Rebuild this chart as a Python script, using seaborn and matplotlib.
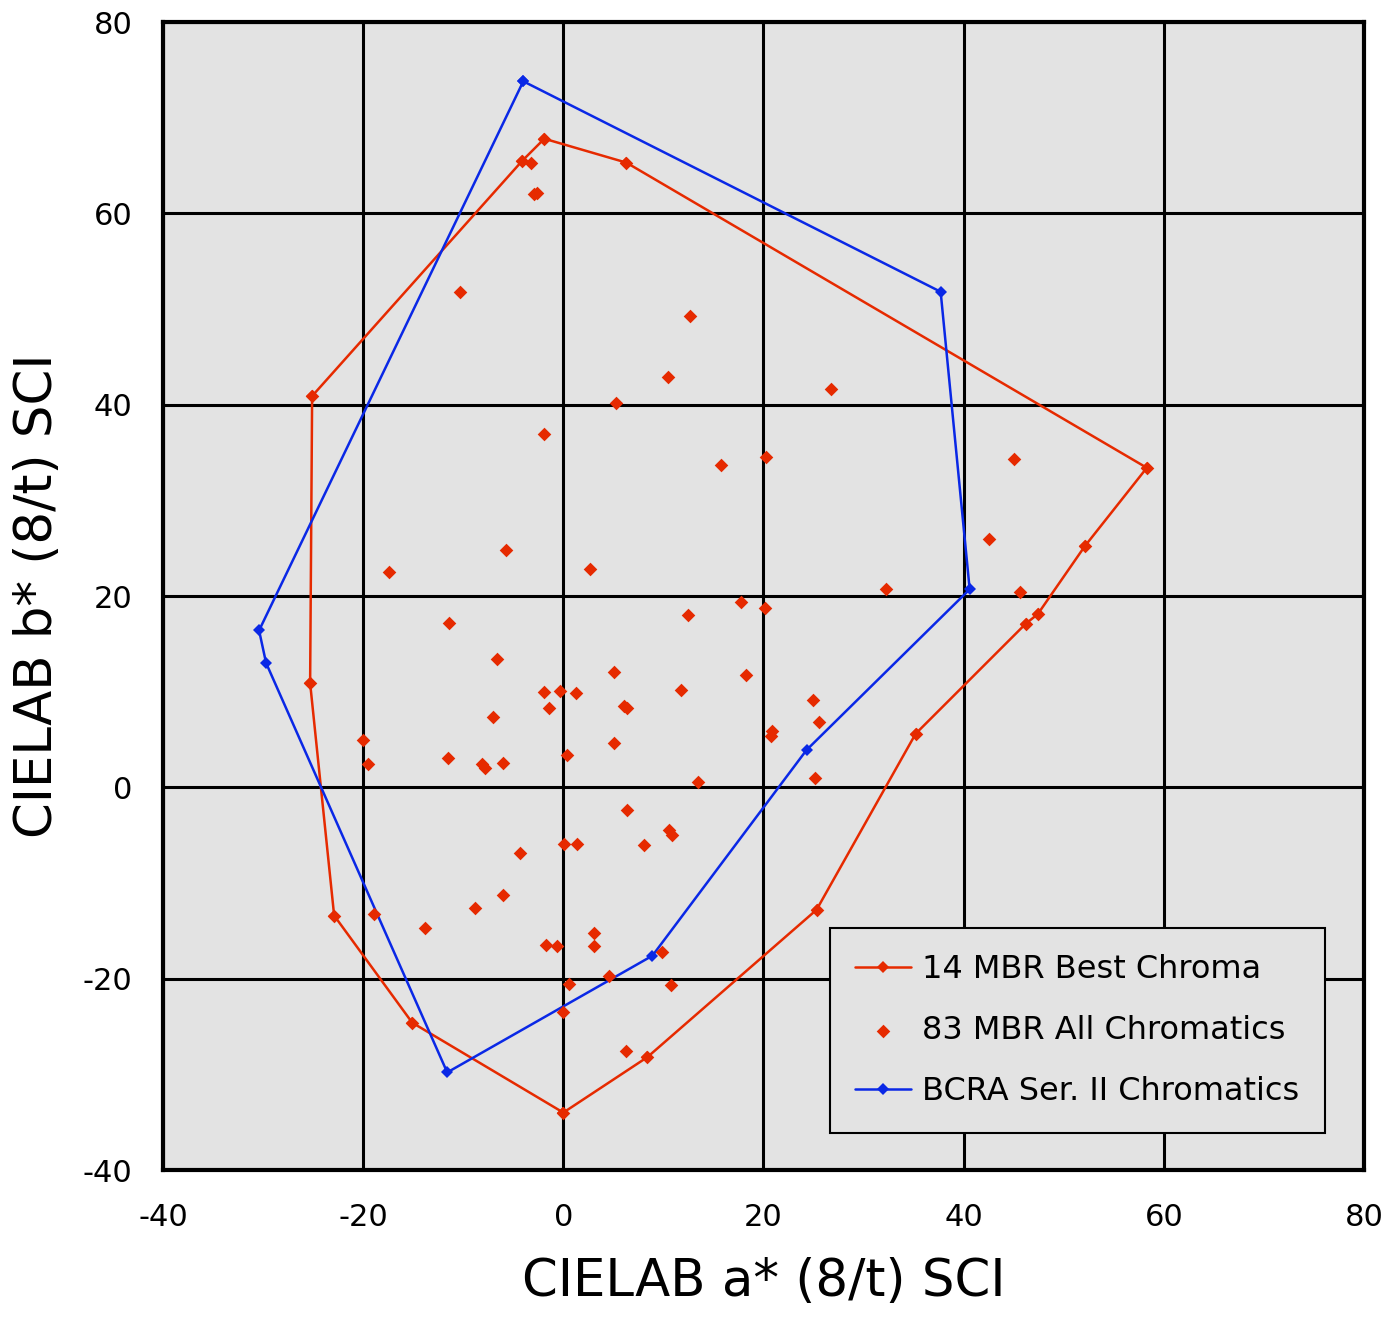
import matplotlib
matplotlib.use("Agg")
import matplotlib.pyplot as plt
import seaborn as sns
import pandas as pd
import numpy as np

# 14 MBR Best Chroma hull (closed)
best_a = [0.0, -15.1, -22.9, -25.3, -25.1, -4.1, -1.9, 6.3, 58.3, 52.1, 47.4, 46.2, 35.2, 25.3, 8.4, 0.0]
best_b = [-34.0, -24.6, -13.4, 10.9, 40.9, 65.5, 67.8, 65.3, 33.4, 25.2, 18.1, 17.1, 5.6, -12.8, -28.2, -34.0]

# BCRA Ser. II chromatics hull (closed)
bcra_a = [-4.0, 37.7, 40.6, 24.3, 8.9, -11.6, -29.7, -30.4, -4.0]
bcra_b = [73.8, 51.8, 20.7, 3.9, -17.6, -29.8, 13.0, 16.4, 73.8]

# 83 MBR all chromatics (interior points)
all_a = [-3.2, -2.9, -2.6, -10.3, 12.7, 10.5, 26.7, 5.3, -1.9, 15.8, 20.2, 45.0, 42.5,
         -5.7, -17.4, 2.7, 32.2, 45.6, 17.8, 20.1, 12.5, -11.4, -6.6, 5.1, 18.3, 11.8,
         -1.9, -0.3, 1.3, 24.9, 6.1, 6.4, -1.4, -7.0, 25.5, 20.8, 20.7, -20.0, 5.1,
         -19.5, -11.5, 0.4, -6.0, -8.1, -7.8, 13.5, 25.1, 6.4, 10.6, 10.9, 8.1, 0.1,
         1.4, -4.3, -8.8, -6.0, -18.9, -13.8, 3.1, 3.1, -1.7, -0.6, 9.9, 4.6, 0.6,
         10.8, 0.0, 6.3]
all_b = [65.3, 62.0, 62.1, 51.8, 49.3, 42.9, 41.6, 40.2, 36.9, 33.7, 34.5, 34.3, 26.0,
         24.8, 22.5, 22.8, 20.7, 20.4, 19.4, 18.7, 18.0, 17.2, 13.4, 12.1, 11.7, 10.2,
         10.0, 10.1, 9.9, 9.1, 8.5, 8.3, 8.3, 7.3, 6.8, 5.9, 5.4, 4.9, 4.6,
         2.4, 3.1, 3.4, 2.5, 2.4, 2.0, 0.6, 1.0, -2.4, -4.5, -5.0, -6.0, -5.9,
         -5.9, -6.9, -12.6, -11.3, -13.2, -14.7, -15.2, -16.6, -16.5, -16.6, -17.2, -19.7, -20.6,
         -20.7, -23.5, -27.6]

ticks = [-40, -20, 0, 20, 40, 60, 80]

RED = "#e62a00"
BLUE = "#0a28e6"

sns.set_theme(style="white")
plt.rcParams["font.family"] = ["DejaVu Sans"]
plt.rcParams["text.color"] = "black"
plt.rcParams["axes.labelcolor"] = "black"
plt.rcParams["xtick.color"] = "black"
plt.rcParams["ytick.color"] = "black"

fig = plt.figure(figsize=(13.88, 13.2), dpi=100)
ax = fig.add_axes([163/1388, 150/1320, (1364-163)/1388, (1170-22)/1320])
ax.set_facecolor("#e3e3e3")

best_df = pd.DataFrame({"a": best_a, "b": best_b})
bcra_df = pd.DataFrame({"a": bcra_a, "b": bcra_b})
all_df = pd.DataFrame({"a": all_a + best_a[:-1], "b": all_b + best_b[:-1]})

sns.lineplot(data=best_df, x="a", y="b", sort=False, estimator=None, ax=ax,
             color=RED, lw=1.8, marker="D", markersize=6.5, markeredgewidth=0,
             label="14 MBR Best Chroma", zorder=4)
sns.scatterplot(data=all_df, x="a", y="b", ax=ax, color=RED, marker="D", s=48,
                linewidth=0, label="83 MBR All Chromatics", zorder=5)
sns.lineplot(data=bcra_df, x="a", y="b", sort=False, estimator=None, ax=ax,
             color=BLUE, lw=1.8, marker="D", markersize=6.5, markeredgewidth=0,
             label="BCRA Ser. II Chromatics", zorder=4)

ax.set_xlim(-40, 80)
ax.set_ylim(-40, 80)
ax.set_xticks(ticks)
ax.set_yticks(ticks)
ax.set_xticklabels([str(t) for t in ticks], fontsize=22)
ax.set_yticklabels([str(t) for t in ticks], fontsize=22)
ax.tick_params(axis="x", length=0, pad=24)
ax.tick_params(axis="y", length=0, pad=22)
ax.grid(True, color="black", lw=2.2)
ax.set_axisbelow(True)
for s in ax.spines.values():
    s.set_color("black")
    s.set_linewidth(3)
    s.set_zorder(6)

ax.set_xlabel("CIELAB a* (8/t) SCI", fontsize=37, labelpad=18)
ax.set_ylabel("CIELAB b* (8/t) SCI", fontsize=37, labelpad=14)

leg = ax.legend(loc="lower right", bbox_to_anchor=(1162/1201, 37/1148), fontsize=23,
                frameon=True, fancybox=False, facecolor="#e3e3e3", edgecolor="black",
                framealpha=1, borderpad=0.8, labelspacing=0.95, handlelength=1.75,
                handletextpad=0.35, borderaxespad=0)
leg.get_frame().set_linewidth(1.5)

fig.savefig("out.png", dpi=100, facecolor="white")
